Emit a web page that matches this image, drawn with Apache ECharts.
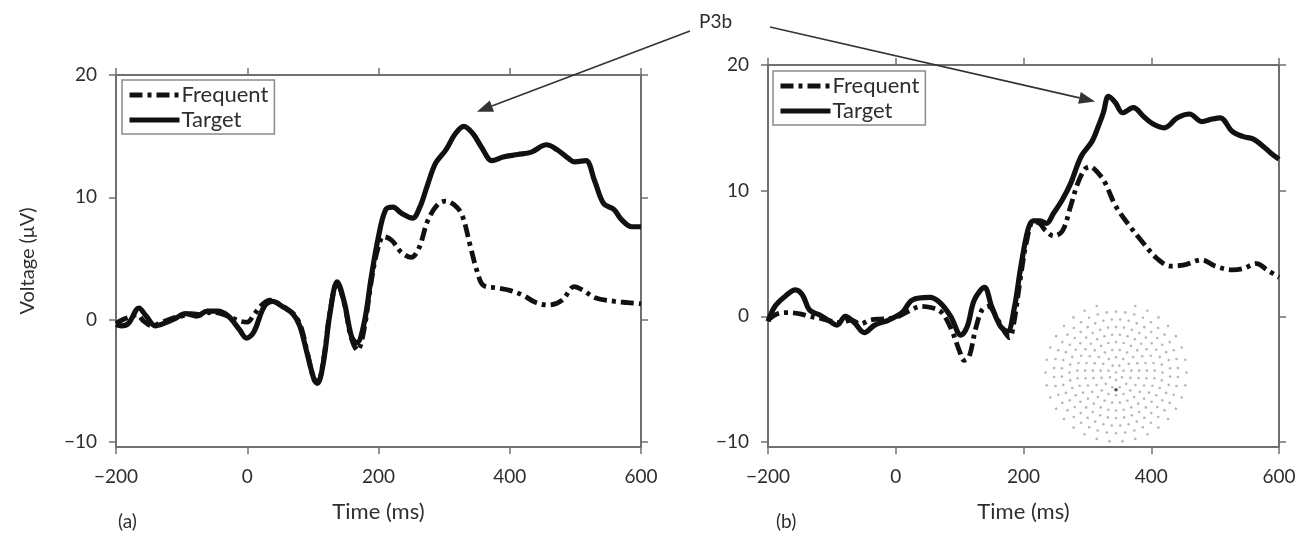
<!DOCTYPE html>
<html>
<head>
<meta charset="utf-8">
<script src="https://cdn.jsdelivr.net/npm/echarts@6/dist/echarts.min.js"></script>
<style>
  html, body { margin: 0; padding: 0; background: #fff; }
  #chart { width: 1301px; height: 538px; }
</style>
</head>
<body>
<div id="chart"></div>
<script>
// tick labels
var xTicks = [-200, 0, 200, 400, 600];
var yTicks = [-10, 0, 10, 20];

// panel (a) - [time ms, voltage uV]
var freqA = [[-200,-0.3],[-190,0.0],[-180,0.2],[-168,0.4],[-158,-0.1],[-145,-0.5],[-130,-0.2],[-115,0.1],
  [-100,0.3],[-85,0.5],[-70,0.4],[-55,0.6],[-40,0.5],[-25,0.2],[-12,-0.1],[0,-0.2],[10,0.4],[22,1.2],
  [35,1.6],[48,1.3],[60,0.9],[72,0.4],[82,-0.6],[92,-2.8],[102,-4.9],[108,-5.0],[116,-3.3],[126,0.6],
  [137,3.0],[148,1.3],[158,-1.4],[168,-2.5],[178,-0.8],[188,2.8],[198,5.6],[208,6.8],[220,6.5],[235,5.5],
  [250,5.1],[262,5.9],[275,8.1],[290,9.4],[302,9.7],[315,9.4],[327,8.6],[340,6.0],[350,4.0],[360,2.8],
  [380,2.6],[400,2.4],[420,2.0],[440,1.4],[460,1.2],[480,1.6],[498,2.7],[512,2.4],[530,1.8],[560,1.5],
  [580,1.4],[600,1.3]];
var targetA = [[-200,-0.4],[-192,-0.5],[-181,-0.3],[-165,0.95],[-154,0.3],[-140,-0.5],[-127,-0.3],[-110,0.1],
  [-94,0.5],[-77,0.3],[-61,0.7],[-45,0.7],[-29,0.3],[-12,-0.8],[-1,-1.5],[10,-1.0],[26,1.1],[39,1.5],
  [53,1.1],[69,0.5],[80,-0.5],[91,-2.7],[102,-4.9],[107,-5.2],[116,-3.5],[126,0.5],[137,3.1],[148,1.4],
  [159,-1.4],[167,-1.9],[178,-0.3],[189,3.5],[200,6.8],[211,9.0],[222,9.2],[235,8.7],[252,8.3],[263,9.2],
  [274,10.9],[287,12.8],[303,13.9],[317,15.2],[330,15.8],[344,15.2],[357,14.1],[373,13.0],[390,13.3],
  [412,13.5],[433,13.7],[456,14.3],[472,13.9],[489,13.2],[499,12.9],[516,13.0],[529,11.4],[543,9.5],
  [559,9.0],[570,8.2],[586,7.6],[600,7.6]];

// panel (b)
var freqB = [[-200,-0.3],[-185,0.2],[-170,0.3],[-150,0.2],[-135,0.0],[-115,-0.2],[-100,-0.4],[-85,-0.5],
  [-70,-0.3],[-55,-0.6],[-40,-0.3],[-20,-0.2],[0,-0.1],[20,0.4],[40,0.8],[55,0.7],[70,0.4],[80,-0.3],
  [90,-1.4],[100,-2.8],[107,-3.5],[115,-3.2],[125,-1.0],[135,0.5],[145,0.8],[160,-0.3],[170,-1.2],
  [178,-1.7],[185,-0.5],[195,3.0],[205,6.0],[215,7.5],[225,7.4],[235,6.8],[247,6.4],[261,6.8],[274,8.8],
  [285,10.6],[296,11.7],[304,11.9],[317,11.4],[328,10.6],[344,8.8],[366,7.2],[388,5.8],[409,4.6],
  [430,4.0],[452,4.1],[479,4.5],[500,4.0],[527,3.7],[544,3.8],[565,4.2],[581,3.7],[600,3.1]];
var targetB = [[-200,-0.4],[-189,0.8],[-173,1.6],[-157,2.1],[-146,1.7],[-135,0.5],[-119,0.1],[-103,-0.4],
  [-92,-0.7],[-79,0.0],[-65,-0.5],[-49,-1.3],[-33,-0.7],[-11,-0.3],[10,0.3],[26,1.3],[53,1.5],[69,1.1],
  [86,0.0],[102,-1.5],[112,-0.8],[123,1.3],[139,2.3],[150,0.8],[164,-0.8],[175,-1.2],[185,0.5],[196,4.0],
  [207,6.9],[215,7.6],[226,7.6],[236,7.4],[247,8.2],[261,9.3],[274,10.6],[290,12.7],[307,13.9],[317,15.1],
  [325,16.2],[333,17.5],[344,17.0],[355,16.2],[372,16.6],[388,15.9],[403,15.3],[420,15.0],[441,15.8],
  [460,16.1],[479,15.5],[495,15.7],[508,15.8],[527,14.7],[544,14.3],[560,14.1],[576,13.5],[587,13.0],
  [600,12.5]];

// electrode net inset: [ring radius, electrode count]
var headRings = [[0,1],[0.11,7],[0.22,13],[0.33,19],[0.44,25],[0.55,31],[0.66,36],[0.77,40],[0.88,42],[1.0,34]];
var refElectrode = [[0, -0.25]];

var headDots = [];
headRings.forEach(function (ring, k) {
  var r = ring[0], n = ring[1];
  for (var i = 0; i < n; i++) {
    var a = Math.PI / 2 + (i + 0.5 * (k % 2)) * 2 * Math.PI / n;
    // outer ring has a gap at the front of the head
    if (k === headRings.length - 1 && Math.abs(Math.cos(a)) < 0.2 && Math.sin(a) > 0) continue;
    headDots.push([r * Math.cos(a), r * Math.sin(a)]);
  }
});

var font = 'Lato';
var axisColor = '#707070';
var textColor = '#2e2e2e';

function minus(v) { return String(v).replace('-', '\u2212'); }

function xAxisFor(grid, pos, withLabels) {
  return {
    type: 'value', gridIndex: grid, position: pos, min: -200, max: 600, interval: 200,
    name: withLabels ? 'Time (ms)' : '', nameLocation: 'middle', nameGap: 54,
    nameTextStyle: { fontFamily: font, fontSize: 22, color: textColor },
    axisLine: { show: true, onZero: false, lineStyle: { color: axisColor, width: 2 } },
    axisTick: { show: true, inside: false, length: 7, lineStyle: { color: axisColor, width: 1.5 } },
    axisLabel: { show: withLabels, margin: 20, fontFamily: font, fontSize: 19, color: textColor, formatter: minus },
    splitLine: { show: false }
  };
}

function yAxisFor(grid, pos, withLabels, name) {
  return {
    type: 'value', gridIndex: grid, position: pos, min: -10.4, max: 20,
    name: name || '', nameLocation: 'middle', nameGap: 78,
    nameTextStyle: { fontFamily: font, fontSize: 20, color: textColor },
    axisLine: { show: true, onZero: false, lineStyle: { color: axisColor, width: 2 } },
    axisTick: { show: true, inside: false, length: 7, customValues: yTicks, lineStyle: { color: axisColor, width: 1.5 } },
    axisLabel: { show: withLabels, customValues: yTicks, margin: 19, fontFamily: font, fontSize: 19, color: textColor, formatter: minus },
    splitLine: { show: false }
  };
}

function legendAt(left, top) {
  return {
    orient: 'vertical', left: left, top: top, data: ['Frequent', 'Target'],
    itemWidth: 50, itemHeight: 19, itemGap: 3, padding: [4, 6, 3, 5],
    borderColor: '#8a8a8a', borderWidth: 1.5,
    itemStyle: { opacity: 0 },
    lineStyle: { width: 5 },
    textStyle: { fontFamily: font, fontSize: 22, color: textColor, padding: [0, 0, 0, -3] }
  };
}

var freqStyle = { color: '#111', width: 4.8, type: [13, 5, 4, 5] };
var targetStyle = { color: '#111', width: 5.2 };

function curve(name, data, xi, yi, style) {
  return {
    name: name, type: 'line', xAxisIndex: xi, yAxisIndex: yi, data: data,
    symbol: 'none', smooth: 0.35, color: '#111', lineStyle: style, z: name === 'Target' ? 3 : 2
  };
}

var chart = echarts.init(document.getElementById('chart'));
chart.setOption({
  animation: false,
  backgroundColor: '#fff',
  grid: [
    { left: 116, top: 75, width: 525, height: 372 },
    { left: 768, top: 65, width: 511, height: 382 },
    { left: 1042, top: 300, width: 148, height: 145 }
  ],
  xAxis: [
    xAxisFor(0, 'bottom', true), xAxisFor(0, 'top', false),
    xAxisFor(1, 'bottom', true), xAxisFor(1, 'top', false),
    { type: 'value', gridIndex: 2, min: -1.05, max: 1.05, show: false }
  ],
  yAxis: [
    yAxisFor(0, 'left', true, 'Voltage (\u03bcV)'), yAxisFor(0, 'right', false),
    yAxisFor(1, 'left', true), yAxisFor(1, 'right', false),
    { type: 'value', gridIndex: 2, min: -1.05, max: 1.05, show: false }
  ],
  legend: [legendAt(122, 80), legendAt(773, 71)],
  series: [
    curve('Frequent', freqA, 0, 0, freqStyle),
    curve('Target', targetA, 0, 0, targetStyle),
    curve('Frequent', freqB, 2, 2, freqStyle),
    curve('Target', targetB, 2, 2, targetStyle),
    { type: 'scatter', xAxisIndex: 4, yAxisIndex: 4, data: headDots, symbolSize: 2.6,
      itemStyle: { color: '#a5a5a5' }, silent: true, z: 1 },
    { type: 'scatter', xAxisIndex: 4, yAxisIndex: 4, data: refElectrode, symbolSize: 3.5,
      itemStyle: { color: '#222' }, silent: true, z: 1 }
  ]
});

// P3b annotation arrows, tips placed at the peaks in data space
function arrow(from, to) {
  var dx = to[0] - from[0], dy = to[1] - from[1];
  var len = Math.sqrt(dx * dx + dy * dy);
  var ux = dx / len, uy = dy / len;
  var hl = 16, hw = 6;
  var bx = to[0] - ux * hl, by = to[1] - uy * hl;
  return [
    { type: 'line', shape: { x1: from[0], y1: from[1], x2: bx, y2: by },
      style: { stroke: '#333', lineWidth: 1.6 }, z: 10 },
    { type: 'polygon', shape: { points: [to, [bx - uy * hw, by + ux * hw], [bx + uy * hw, by - ux * hw]] },
      style: { fill: '#333' }, z: 10 }
  ];
}
var tipA = chart.convertToPixel({ xAxisIndex: 0, yAxisIndex: 0 }, [350, 17.0]);
var tipB = chart.convertToPixel({ xAxisIndex: 2, yAxisIndex: 2 }, [312, 17.1]);

chart.setOption({
  graphic: [
    { type: 'text', left: 699, top: 12, style: { text: 'P3b', font: '19px Lato', fill: textColor } }
  ].concat(arrow([690, 31], tipA), arrow([770, 27], tipB), [
    { type: 'text', left: 118, top: 512, style: { text: '(a)', font: '19px Lato', fill: textColor } },
    { type: 'text', left: 776, top: 512, style: { text: '(b)', font: '19px Lato', fill: textColor } }
  ])
});
</script>
</body>
</html>
